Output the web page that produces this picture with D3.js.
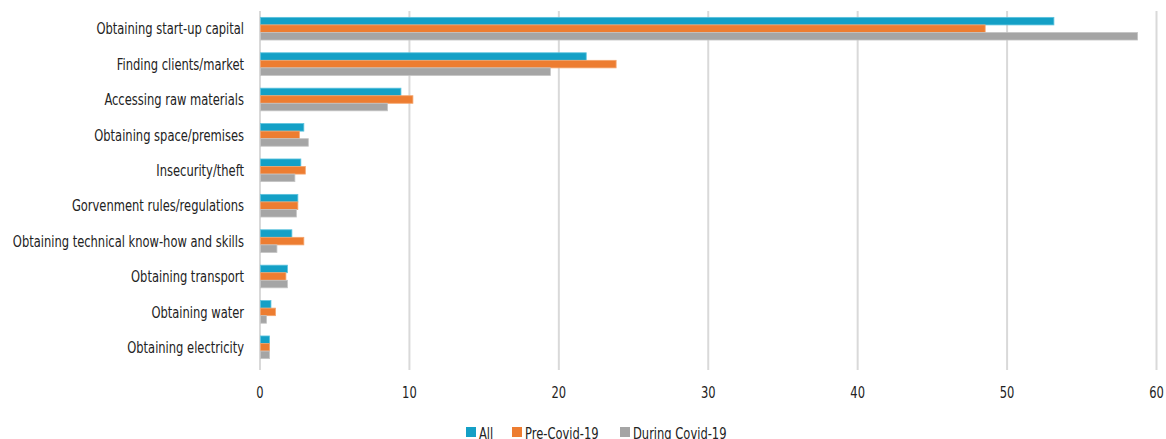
<!DOCTYPE html>
<html>
<head>
<meta charset="utf-8">
<script src="https://cdn.jsdelivr.net/npm/d3@7"></script>
<style>
  html, body { margin: 0; padding: 0; background: #fff; }
  svg text { font-family: "Liberation Sans Narrow", "DejaVu Sans Condensed", "DejaVu Sans", sans-serif; font-stretch: condensed; fill: #222; }
</style>
</head>
<body>
<svg id="chart" width="1166" height="439"></svg>
<script>
// Obstacles faced when starting a business (%)
const categories = [
  "Obtaining start-up capital",
  "Finding clients/market",
  "Accessing raw materials",
  "Obtaining space/premises",
  "Insecurity/theft",
  "Gorvenment rules/regulations",
  "Obtaining technical know-how and skills",
  "Obtaining transport",
  "Obtaining water",
  "Obtaining electricity"
];
const seriesNames = ["All", "Pre-Covid-19", "During Covid-19"];
const allValues    = [53.1, 21.8, 9.4, 2.9, 2.7, 2.5, 2.1, 1.8, 0.7, 0.6];
const preValues    = [48.5, 23.8, 10.2, 2.6, 3.0, 2.5, 2.9, 1.7, 1.0, 0.6];
const duringValues = [58.7, 19.4, 8.5, 3.2, 2.3, 2.4, 1.1, 1.8, 0.4, 0.6];
const xTicks = [0, 10, 20, 30, 40, 50, 60];

const colors = ["#14a0c6", "#ed7d31", "#a5a5a5"];
const strokes = ["#5cc3de", "#f4a46c", "#c4c4c4"];

// horizontal squeeze giving the narrow lettering
const squeeze = 0.8;

const rows = categories.map((c, i) => ({
  category: c,
  values: [allValues[i], preValues[i], duringValues[i]]
}));

const svg = d3.select("#chart");

const x = d3.scaleLinear().domain([0, 60]).range([260, 1156.5]);
const y0 = d3.scaleBand().domain(categories).range([11, 365])
  .paddingInner(0.36).paddingOuter(0.18);
const y1 = d3.scaleBand().domain(d3.range(seriesNames.length))
  .range([0, y0.bandwidth()]);

// vertical gridlines
svg.append("g")
  .selectAll("line")
  .data(xTicks)
  .join("line")
  .attr("x1", d => x(d)).attr("x2", d => x(d))
  .attr("y1", 11).attr("y2", 370)
  .attr("stroke", "#d9d9d9")
  .attr("stroke-width", 2);

// bars
const groups = svg.append("g")
  .selectAll("g")
  .data(rows)
  .join("g")
  .attr("transform", d => `translate(0,${y0(d.category)})`);

groups.selectAll("rect")
  .data(d => d.values.map((v, k) => ({ v, k })))
  .join("rect")
  .attr("x", x(0) + 0.5)
  .attr("y", d => y1(d.k))
  .attr("width", d => Math.max(0, x(d.v) - x(0)))
  .attr("height", y1.bandwidth())
  .attr("fill", d => colors[d.k])
  .attr("stroke", d => strokes[d.k])
  .attr("stroke-width", 0.8);

// category labels
svg.append("g")
  .selectAll("text")
  .data(categories)
  .join("text")
  .attr("transform", d => `translate(244,${y0(d) + y0.bandwidth() / 2}) scale(${squeeze},1)`)
  .attr("dy", "0.35em")
  .attr("text-anchor", "end")
  .style("font-size", "16px")
  .text(d => d);

// x axis tick labels
svg.append("g")
  .selectAll("text")
  .data(xTicks)
  .join("text")
  .attr("transform", d => `translate(${x(d)},398) scale(${squeeze},1)`)
  .attr("text-anchor", "middle")
  .style("font-size", "16px")
  .text(d => d);

// legend
const legendX = [466, 512, 620];
const legend = svg.append("g")
  .selectAll("g")
  .data(seriesNames)
  .join("g")
  .attr("transform", (d, i) => `translate(${legendX[i]},427)`);
legend.append("rect")
  .attr("width", 10).attr("height", 10)
  .attr("fill", (d, i) => colors[i]);
legend.append("text")
  .attr("transform", `translate(13,12) scale(${squeeze},1)`)
  .style("font-size", "16px")
  .text(d => d);
</script>
</body>
</html>
